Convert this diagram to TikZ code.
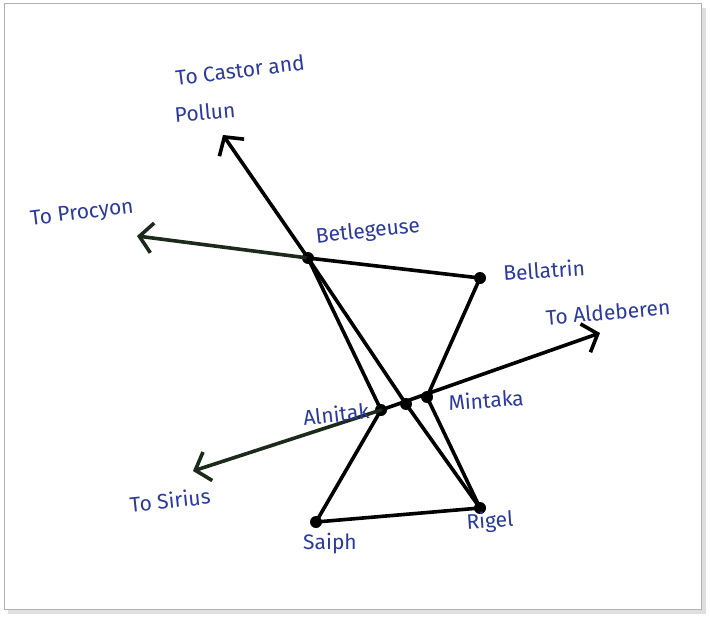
\documentclass[tikz,border=0pt]{standalone}
\usepackage{fontspec}
\setmainfont{Fira Sans}
\usetikzlibrary{arrows.meta}
\definecolor{ink}{HTML}{2B3A9C}
\definecolor{darkgreen}{HTML}{1C2A1C}
\begin{document}
\begin{tikzpicture}[x=1pt,y=-1pt,
  star/.style={circle,fill=black,inner sep=0pt,minimum size=12pt},
  edge/.style={line width=3.6pt,black,line cap=round,line join=round},
  ray/.style={edge,-{Straight Barb[length=13pt,width=30pt,line width=3.6pt]}},
  lbl/.style={text=ink,font=\fontsize{21}{23}\selectfont,inner sep=0pt}]
\useasboundingbox (0,0) rectangle (710,618);
\fill[white] (0,0) rectangle (710,618);
\fill[gray!25] (8,8) rectangle (706,614);
\fill[white] (4,4) rectangle (701,609);
\draw[gray!60,line width=1pt] (4,4) rectangle (701,609);
% stars
\node[star] (bet) at (308,258) {};
\node[star] (bel) at (480,278) {};
\node[star] (aln) at (381,410) {};
\node[star] (alm) at (406,404) {};
\node[star] (min) at (427,397) {};
\node[star] (sai) at (316,522) {};
\node[star] (rig) at (480,508) {};
\coordinate (cas) at (223,135);
\coordinate (pro) at (137,236);
\coordinate (sir) at (193,471);
\coordinate (ald) at (600,333);
% lines
\draw[edge] (rig.center) -- (alm.center) -- (bet.center);
\draw[ray] (bet.center) -- (cas);
\draw[edge] (bel.center) -- (bet.center);
\draw[ray,darkgreen] (bet.center) -- (pro);
\draw[edge] (bet.center) -- (aln.center);
\draw[edge] (bel.center) -- (min.center) -- (rig.center);
\draw[edge] (aln.center) -- (sai.center) -- (rig.center);
\draw[ray] (aln.center) -- (ald);
\draw[ray,darkgreen] (aln.center) -- (sir);
% labels
\node[lbl,rotate=7] (lcas) at (240,70) {To Castor and};
\node[lbl,rotate=5] (lpol) at (205,112) {Pollun};
\node[lbl,rotate=7] (lpro) at (82,214) {To Procyon};
\node[lbl,rotate=6] (lbet) at (368,232) {Betlegeuse};
\node[lbl,rotate=4] (lbel) at (544,270) {Bellatrin};
\node[lbl,rotate=5] (lald) at (608,312) {To Aldeberen};
\node[lbl,rotate=6] (laln) at (336,414) {Alnitak};
\node[lbl,rotate=4] (lmin) at (486,400) {Mintaka};
\node[lbl,rotate=6] (lsir) at (170,500) {To Sirius};
\node[lbl] (lsai) at (330,544) {Saiph};
\node[lbl,rotate=4] (lrig) at (490,522) {Rigel};
\end{tikzpicture}
\end{document}
